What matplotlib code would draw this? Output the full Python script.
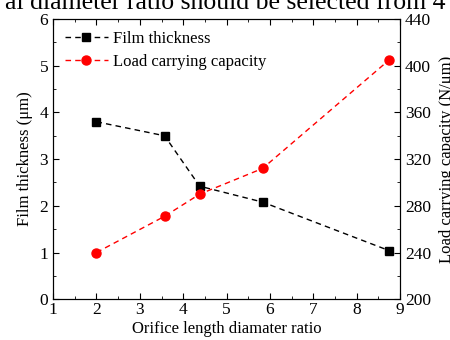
import matplotlib
matplotlib.use("Agg")
import matplotlib.pyplot as plt
from matplotlib.ticker import MultipleLocator

plt.rcParams["font.family"] = ["Liberation Serif", "DejaVu Serif"]

ratio = [2.0, 3.57, 4.38, 5.83, 8.75]
film_thickness = [3.8, 3.5, 2.42, 2.08, 1.04]
load_capacity = [240, 271, 290, 312, 405]

fig = plt.figure(figsize=(4.5, 3.4), dpi=100)
ax = fig.add_axes([0.118, 0.12, 0.771, 0.824])
ax2 = ax.twinx()

l1, = ax.plot(ratio, film_thickness, "--s", color="black", ms=6, lw=1, dashes=(4, 3),
              label="Film thickness")
l2, = ax2.plot(ratio, load_capacity, "--o", color="red", ms=6.5, lw=1, dashes=(4, 3),
               label="Load carrying capacity")

ax.set_xlim(1, 9)
ax.set_ylim(0, 6)
ax2.set_ylim(200, 440)
ax.xaxis.set_major_locator(MultipleLocator(1))
ax.xaxis.set_minor_locator(MultipleLocator(0.5))
ax.yaxis.set_major_locator(MultipleLocator(1))
ax.yaxis.set_minor_locator(MultipleLocator(0.5))
ax2.yaxis.set_major_locator(MultipleLocator(40))
ax2.yaxis.set_minor_locator(MultipleLocator(20))

ax.tick_params(which="both", direction="in", top=True, labelsize=12.5)
ax.tick_params(which="major", length=4)
ax.tick_params(which="minor", length=2)
ax2.tick_params(which="both", direction="in", labelsize=12.5)
ax2.tick_params(which="major", length=4)
ax2.tick_params(which="minor", length=2)
ax.tick_params(axis="x", pad=2)

ax.set_xlabel("Orifice length diamater ratio", fontsize=12, labelpad=2)
ax.set_ylabel("Film thickness (\u03bcm)", fontsize=12, labelpad=5)
ax2.set_ylabel("Load carrying capacity (N/\u03bcm)", fontsize=12, labelpad=6)

ax.legend(handles=[l1, l2], loc="upper left", frameon=False, fontsize=12,
          handlelength=2.6, handletextpad=0.3, borderaxespad=0.3, labelspacing=0.45)

fig.text(0.5, 0.99, "al diameter ratio should be selected from 4", ha="center", va="center",
         fontsize=18.5)

fig.savefig("out.png", dpi=100)
